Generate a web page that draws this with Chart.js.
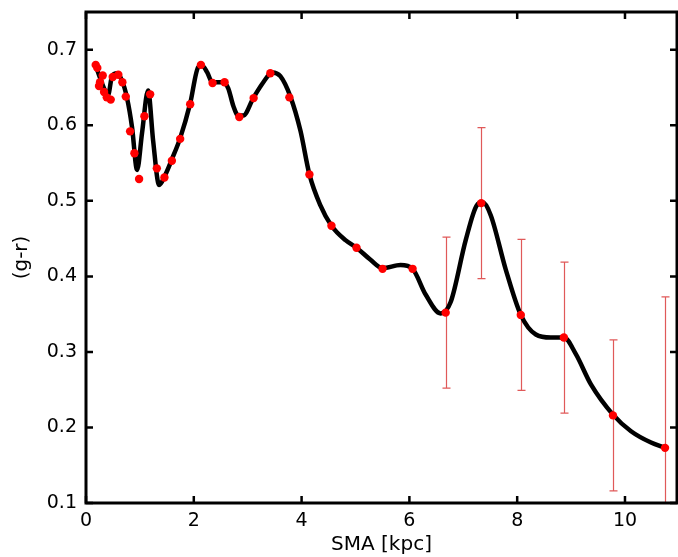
<!DOCTYPE html>
<html>
<head>
<meta charset="utf-8">
<script src="https://cdn.jsdelivr.net/npm/chart.js@4/dist/chart.umd.min.js"></script>
<style>
html,body{margin:0;padding:0;background:#fff;}
canvas{display:block;}
</style>
</head>
<body>
<canvas id="c" width="678" height="557"></canvas>
<script>
// Smoothed colour profile (black curve)
const curveX = [0.167,0.260,0.353,0.409,0.483,0.576,0.669,0.762,0.855,0.948,1.040,1.152,1.245,1.357,1.468,1.599,1.747,1.933,2.082,2.156,2.249,2.342,2.546,2.639,2.732,2.825,2.918,3.104,3.271,3.457,3.606,3.792,3.978,4.145,4.349,4.554,4.814,5.019,5.279,5.502,5.836,6.059,6.301,6.580,6.766,7.045,7.249,7.361,7.509,7.788,8.067,8.346,8.625,8.866,9.089,9.368,9.777,10.112,10.483,10.743];
const curveY = [0.682,0.663,0.646,0.640,0.665,0.669,0.659,0.636,0.597,0.541,0.590,0.646,0.580,0.521,0.534,0.556,0.583,0.629,0.677,0.679,0.670,0.657,0.657,0.649,0.626,0.613,0.613,0.636,0.655,0.670,0.665,0.638,0.593,0.535,0.494,0.467,0.448,0.438,0.422,0.411,0.415,0.410,0.376,0.351,0.366,0.448,0.494,0.498,0.481,0.409,0.349,0.323,0.319,0.319,0.297,0.257,0.217,0.195,0.180,0.173];

// Measured isophote colours (red points) and their errors
const sma = [0.180,0.210,0.310,0.260,0.242,0.335,0.385,0.459,0.496,0.600,0.675,0.738,0.818,0.898,0.985,1.084,1.190,1.314,1.455,1.593,1.747,1.933,2.132,2.348,2.571,2.844,3.110,3.420,3.773,4.145,4.554,5.019,5.502,6.059,6.673,7.333,8.067,8.866,9.777,10.743];
const gr  = [0.680,0.676,0.666,0.657,0.652,0.644,0.637,0.634,0.664,0.667,0.657,0.638,0.592,0.563,0.529,0.612,0.641,0.543,0.531,0.553,0.582,0.628,0.680,0.656,0.657,0.611,0.636,0.669,0.637,0.535,0.467,0.438,0.410,0.410,0.352,0.497,0.349,0.319,0.216,0.173];
const grErr = [0,0,0,0,0,0,0,0,0,0,0,0,0,0,0,0,0,0,0,0,0,0,0,0,0,0,0,0,0,0,0,0,0,0,0.1,0.1,0.1,0.1,0.1,0.2];

const xTicks = [0,2,4,6,8,10];
const yTicks = [0.1,0.2,0.3,0.4,0.5,0.6,0.7];
const xLabel = 'SMA [kpc]';
const yLabel = '(g-r)';

const FONT = 'DejaVu Sans';

const framePlugin = {
  id: 'frame',
  beforeDatasetsDraw(chart) {
    const ctx = chart.ctx, xs = chart.scales.x, ys = chart.scales.y, a = chart.chartArea;
    ctx.save();
    ctx.beginPath();
    ctx.rect(a.left, a.top, a.right - a.left, a.bottom - a.top);
    ctx.clip();
    ctx.strokeStyle = 'rgba(218,60,60,0.85)';
    ctx.lineWidth = 1.2;
    for (let i = 0; i < sma.length; i++) {
      if (!grErr[i]) continue;
      const px = Math.round(xs.getPixelForValue(sma[i])) + 0.5;
      const top = ys.getPixelForValue(gr[i] + grErr[i]);
      const bot = ys.getPixelForValue(gr[i] - grErr[i]);
      ctx.beginPath();
      ctx.moveTo(px, top); ctx.lineTo(px, bot);
      ctx.moveTo(px - 4, top); ctx.lineTo(px + 4, top);
      ctx.moveTo(px - 4, bot); ctx.lineTo(px + 4, bot);
      ctx.stroke();
    }
    ctx.restore();
  },
  afterDraw(chart) {
    const ctx = chart.ctx, xs = chart.scales.x, ys = chart.scales.y, a = chart.chartArea;
    ctx.save();
    ctx.strokeStyle = '#000';
    ctx.lineWidth = 3;
    ctx.strokeRect(a.left, a.top, a.right - a.left, a.bottom - a.top);
    ctx.lineWidth = 2.5;
    const tl = 7;
    ctx.beginPath();
    xTicks.forEach(v => {
      const px = xs.getPixelForValue(v);
      ctx.moveTo(px, a.bottom); ctx.lineTo(px, a.bottom - tl);
      ctx.moveTo(px, a.top); ctx.lineTo(px, a.top + tl);
    });
    yTicks.forEach(v => {
      const py = ys.getPixelForValue(v);
      ctx.moveTo(a.left, py); ctx.lineTo(a.left + tl, py);
      ctx.moveTo(a.right, py); ctx.lineTo(a.right - tl, py);
    });
    ctx.stroke();
    ctx.restore();
  }
};

const zeroPad = s => { s.paddingTop = 0; s.paddingBottom = 0; s.paddingLeft = 0; s.paddingRight = 0; };

new Chart(document.getElementById('c'), {
  type: 'scatter',
  data: {
    datasets: [
      {
        label: 'points',
        data: sma.map((x, i) => ({x: x, y: gr[i]})),
        backgroundColor: '#ff0000',
        borderColor: '#ff0000',
        pointRadius: 4.2,
        borderWidth: 0,
        order: 0
      },
      {
        label: 'curve',
        data: curveX.map((x, i) => ({x: x, y: curveY[i]})),
        showLine: true,
        borderColor: '#000',
        borderWidth: 4.5,
        pointRadius: 0,
        cubicInterpolationMode: 'monotone',
        fill: false,
        order: 1
      }
    ]
  },
  options: {
    responsive: false,
    animation: false,
    devicePixelRatio: 1,
    layout: {autoPadding: false, padding: {top: 12, right: 1, left: 0, bottom: 0}},
    plugins: {legend: {display: false}, tooltip: {enabled: false}},
    scales: {
      x: {
        type: 'linear', min: 0, max: 10.965,
        grid: {display: false, drawTicks: false},
        border: {display: false},
        afterBuildTicks: s => { s.ticks = xTicks.map(v => ({value: v})); },
        afterFit: s => { s.height = 54; zeroPad(s); },
        ticks: {color: '#000', font: {family: FONT, size: 19}, padding: 7, maxRotation: 0, callback: v => String(v)},
        title: {display: true, text: xLabel, color: '#000', font: {family: FONT, size: 20}, padding: {top: 0, bottom: 0}}
      },
      y: {
        type: 'linear', min: 0.1, max: 0.75,
        grid: {display: false, drawTicks: false},
        border: {display: false},
        afterBuildTicks: s => { s.ticks = yTicks.map(v => ({value: v})); },
        afterFit: s => { s.width = 86; zeroPad(s); },
        ticks: {color: '#000', font: {family: FONT, size: 19}, padding: 9, callback: v => v.toFixed(1)},
        title: {display: true, text: yLabel, color: '#000', font: {family: FONT, size: 20}, padding: {top: 10, bottom: 0}}
      }
    }
  },
  plugins: [framePlugin]
});
</script>
</body>
</html>
